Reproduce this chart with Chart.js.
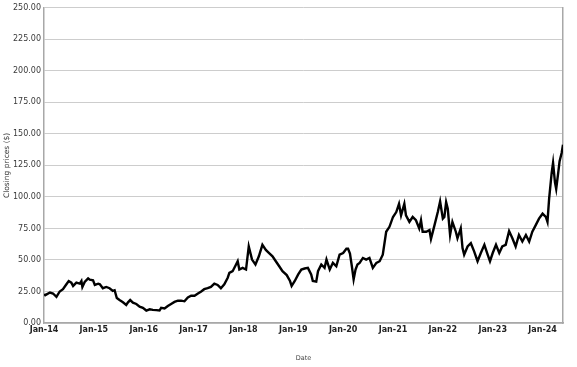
<!DOCTYPE html>
<html>
<head>
<meta charset="utf-8">
<script src="https://cdn.jsdelivr.net/npm/chart.js@4/dist/chart.umd.min.js"></script>
<style>
  html, body { margin: 0; padding: 0; background: #fff; }
  #wrap { width: 577px; height: 367px; }
</style>
</head>
<body>
<div id="wrap"><canvas id="chart" width="577" height="367"></canvas></div>
<script>
// closing prices
const dates = [
  '2014-01-02','2014-01-10','2014-02-14','2014-03-08','2014-04-02','2014-04-26','2014-05-20','2014-06-14',
  '2014-07-01','2014-07-20','2014-08-02','2014-08-26','2014-09-20','2014-10-02','2014-10-09','2014-10-26',
  '2014-11-20','2014-12-02','2014-12-26','2015-01-08','2015-02-02','2015-02-14','2015-03-08','2015-04-02',
  '2015-04-26','2015-05-20','2015-06-02','2015-06-18','2015-07-08','2015-08-02','2015-08-26','2015-09-08',
  '2015-09-24','2015-10-14','2015-11-08','2015-12-02','2015-12-26','2016-01-20','2016-02-14','2016-03-08',
  '2016-04-02','2016-04-26','2016-05-08','2016-06-02','2016-06-26','2016-07-20','2016-08-14','2016-09-08',
  '2016-10-02','2016-10-26','2016-11-20','2016-12-14','2017-01-08','2017-02-02','2017-02-26','2017-03-20',
  '2017-04-14','2017-05-08','2017-06-02','2017-06-26','2017-07-20','2017-08-14','2017-09-08','2017-09-20',
  '2017-10-14','2017-11-08','2017-11-20','2017-12-02','2017-12-26','2018-01-20','2018-02-09','2018-03-05',
  '2018-03-30','2018-04-24','2018-05-20','2018-06-14','2018-07-08','2018-08-02','2018-08-26','2018-09-20',
  '2018-10-14','2018-11-14','2018-12-08','2018-12-20','2019-01-12','2019-02-06','2019-03-01','2019-03-25',
  '2019-04-18','2019-05-12','2019-05-24','2019-06-18','2019-07-01','2019-07-25','2019-08-18','2019-09-01',
  '2019-09-25','2019-10-18','2019-11-12','2019-12-06','2020-01-01','2020-01-25','2020-02-06','2020-02-20',
  '2020-03-05','2020-03-18','2020-04-01','2020-04-15','2020-05-01','2020-05-25','2020-06-18','2020-07-12',
  '2020-08-06','2020-09-01','2020-09-25','2020-10-18','2020-11-12','2020-12-06','2021-01-01','2021-01-25',
  '2021-02-14','2021-03-01','2021-03-25','2021-04-06','2021-05-01','2021-05-25','2021-06-18','2021-07-12',
  '2021-07-25','2021-08-06','2021-09-01','2021-09-25','2021-10-06','2021-11-01','2021-11-25','2021-12-12',
  '2022-01-01','2022-01-12','2022-01-25','2022-02-06','2022-02-23','2022-03-12','2022-04-06','2022-04-18',
  '2022-05-12','2022-05-25','2022-06-06','2022-07-01','2022-07-25','2022-08-18','2022-09-12','2022-10-06',
  '2022-11-01','2022-11-25','2022-12-12','2023-01-01','2023-01-25','2023-02-18','2023-03-12','2023-04-06',
  '2023-05-01','2023-05-25','2023-06-18','2023-07-12','2023-08-06','2023-09-01','2023-09-25','2023-10-18',
  '2023-11-12','2023-12-06','2024-01-01','2024-01-25','2024-02-06','2024-02-18','2024-03-08','2024-03-18',
  '2024-04-01','2024-04-10','2024-04-25','2024-05-05','2024-05-20','2024-05-30'
];
const closes = [
  23.0, 22.1, 24.2, 23.4, 20.8, 25.0, 26.8, 30.7,
  33.3, 32.0, 29.4, 32.0, 31.2, 33.3, 28.6, 32.6,
  35.4, 34.4, 33.8, 30.2, 31.2, 30.7, 27.6, 28.6,
  27.6, 25.5, 26.0, 19.8, 18.2, 16.4, 14.3, 16.4,
  18.2, 16.1, 15.1, 13.0, 12.0, 9.9, 10.9, 10.4,
  10.2, 9.9, 12.0, 11.5, 13.5, 15.1, 16.7, 17.7,
  17.7, 17.2, 20.3, 21.6, 21.6, 23.4, 25.0, 26.8,
  27.6, 28.6, 31.2, 30.2, 27.6, 30.7, 35.9, 39.8,
  41.1, 46.4, 49.0, 42.4, 43.7, 42.4, 60.7, 50.3,
  46.4, 52.9, 62.0, 58.0, 55.5, 52.9, 49.0, 45.0,
  41.1, 38.0, 33.3, 29.4, 33.3, 38.5, 42.4, 43.2,
  43.7, 38.5, 33.3, 32.8, 41.1, 46.4, 43.7, 50.3,
  42.4, 47.7, 45.0, 54.2, 55.5, 58.9, 58.9, 55.0,
  45.0, 34.6, 42.4, 46.4, 47.7, 51.6, 50.3, 51.6,
  43.7, 47.7, 49.0, 54.2, 72.4, 76.3, 84.1, 88.0,
  94.5, 85.4, 94.5, 85.4, 80.2, 84.1, 81.5, 75.0,
  81.5, 72.4, 72.4, 73.7, 66.7, 77.6, 88.0, 96.4,
  82.8, 84.1, 95.8, 90.6, 69.8, 80.2, 72.4, 67.2,
  75.0, 59.4, 54.2, 60.7, 63.3, 56.8, 49.0, 55.5,
  62.0, 54.2, 49.0, 55.5, 62.0, 55.5, 60.7, 62.0,
  72.9, 67.2, 60.7, 69.8, 64.6, 69.8, 64.6, 72.4,
  77.6, 82.8, 86.7, 84.1, 80.2, 98.4, 119.3, 127.1,
  111.5, 106.3, 119.3, 128.4, 134.9, 141.4
];
const tickYears = [2014, 2015, 2016, 2017, 2018, 2019, 2020, 2021, 2022, 2023, 2024];
const tickMonth = 'Jan';

// date string -> fractional year for the linear x scale
function toYear(s) {
  const d = Date.parse(s + 'T00:00:00Z');
  const y = Number(s.slice(0, 4));
  const a = Date.UTC(y, 0, 1), b = Date.UTC(y + 1, 0, 1);
  return y + (d - a) / (b - a);
}

const points = dates.map((d, i) => ({ x: toYear(d), y: closes[i] }));
const axisGrey = '#a8a8a8';

new Chart(document.getElementById('chart'), {
  type: 'line',
  data: {
    datasets: [{
      data: points,
      borderColor: '#000',
      borderWidth: 2.4,
      pointRadius: 0,
      tension: 0,
      fill: false
    }]
  },
  options: {
    responsive: false,
    animation: false,
    layout: { padding: { top: 3, right: 14, left: 0, bottom: 0 } },
    plugins: { legend: { display: false }, tooltip: { enabled: false } },
    scales: {
      x: {
        type: 'linear',
        min: tickYears[0],
        max: points[points.length - 1].x,
        afterFit: s => { s.height = 44; },
        afterBuildTicks: s => { s.ticks = tickYears.map(v => ({ value: v })); },
        grid: { display: false, drawTicks: false },
        border: { display: true, color: axisGrey, width: 1.5 },
        ticks: {
          autoSkip: false,
          maxRotation: 0,
          padding: 2,
          color: '#222',
          font: { family: 'DejaVu Sans', size: 8, weight: 'bold' },
          callback: v => tickMonth + '-' + String(v).slice(2)
        },
        title: {
          display: true,
          text: 'Date',
          color: '#444',
          font: { family: 'DejaVu Sans', size: 6.5 },
          padding: { top: 0, bottom: 5 }
        }
      },
      y: {
        min: 0,
        max: 250,
        afterFit: s => { s.width = 44; },
        grid: { color: '#cdcdcd', lineWidth: 1, drawTicks: false },
        border: { display: true, color: axisGrey, width: 1.5 },
        ticks: {
          stepSize: 25,
          padding: 3,
          color: '#3a3a3a',
          font: { family: 'DejaVu Sans', size: 8 },
          callback: v => Number(v).toFixed(2)
        },
        title: {
          display: true,
          text: 'Closing prices ($)',
          color: '#333',
          font: { family: 'DejaVu Sans', size: 7.5 },
          padding: { top: 3, bottom: 0 }
        }
      },
      yRight: {
        position: 'right',
        min: 0,
        max: 250,
        afterFit: s => { s.width = 0; },
        grid: { drawOnChartArea: false, drawTicks: false },
        border: { display: true, color: axisGrey, width: 1.5 },
        ticks: { display: false }
      }
    }
  }
});
</script>
</body>
</html>
